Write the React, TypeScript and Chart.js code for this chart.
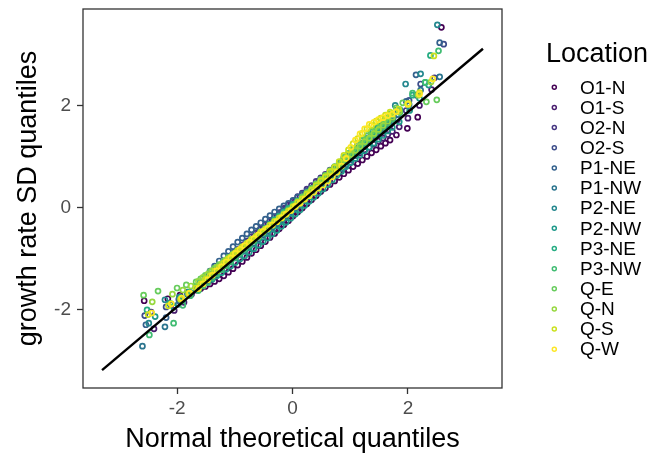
import { useEffect, useRef } from "react";
import { Chart, registerables } from "chart.js";

Chart.register(...registerables);

const FONT = '"Liberation Sans", Arial, Helvetica, sans-serif';

const LOCATIONS = ["O1-N", "O1-S", "O2-N", "O2-S", "P1-NE", "P1-NW", "P2-NE", "P2-NW", "P3-NE", "P3-NW", "Q-E", "Q-N", "Q-S", "Q-W"];
const COLORS = ["#440154", "#481C6E", "#453581", "#3D4D8A", "#34618D", "#2B748E", "#24878E", "#1F998A", "#25AC82", "#40BC72", "#67CC5C", "#97D83F", "#CBE11E", "#FDE725"];

const X_TICKS = [-2, 0, 2];
const Y_TICKS = [-2, 0, 2];
const X_TITLE = "Normal theoretical quantiles";
const Y_TITLE = "growth rate SD quantiles";
const LEGEND_TITLE = "Location";

// theoretical quantiles: central part (two sample sizes interleaved)
const XA_MID = [
  -1.67, -1.59, -1.51, -1.43, -1.35, -1.27, -1.19, -1.11, -1.03, -0.95,
  -0.87, -0.79, -0.71, -0.63, -0.55, -0.47, -0.39, -0.31, -0.23, -0.15,
  -0.07, 0.01, 0.09, 0.17, 0.25, 0.33, 0.41, 0.49, 0.57, 0.65,
  0.73, 0.81, 0.89, 0.97, 1.05, 1.13, 1.21, 1.29, 1.37, 1.45,
  1.53, 1.61, 1.69];
const XB_MID = [
  -1.63, -1.55, -1.47, -1.39, -1.31, -1.23, -1.15, -1.07, -0.99, -0.91,
  -0.83, -0.75, -0.67, -0.59, -0.51, -0.43, -0.35, -0.27, -0.19, -0.11,
  -0.03, 0.05, 0.13, 0.21, 0.29, 0.37, 0.45, 0.53, 0.61, 0.69,
  0.77, 0.85, 0.93, 1.01, 1.09, 1.17, 1.25, 1.33, 1.41, 1.49,
  1.57, 1.65, 1.73];
// theoretical quantiles of the tails, per location
const LO_X = [
  [-2.57, -2.16, -1.95, -1.80], [-2.40, -2.05, -1.88, -1.75], [-2.45, -2.10, -1.92, -1.78], [-2.56, -2.19, -1.97, -1.82],
  [-2.54, -2.19, -1.95, -1.80], [-2.60, -2.21, -1.98, -1.82], [-2.49, -2.21, -1.96, -1.80], [-2.38, -2.06, -1.90, -1.76],
  [-2.52, -2.12, -1.93, -1.79], [-2.48, -2.06, -1.90, -1.77], [-2.58, -2.33, -2.00, -1.84], [-2.43, -2.08, -1.90, -1.76],
  [-2.50, -2.15, -1.94, -1.80], [-2.44, -2.10, -1.92, -1.78]];
const HI_X = [
  [1.80, 1.99, 2.17, 2.58], [1.85, 2.00, 2.20, 2.41], [1.82, 1.97, 2.15, 2.46], [1.84, 2.02, 2.22, 2.62],
  [1.82, 1.97, 2.14, 2.55], [1.83, 2.02, 2.22, 2.55], [1.78, 1.96, 2.22, 2.51], [1.85, 2.03, 2.20, 2.36],
  [1.86, 2.08, 2.30, 2.39], [1.86, 2.08, 2.30, 2.53], [1.80, 1.91, 2.32, 2.50], [1.85, 2.01, 2.18, 2.40],
  [1.84, 2.00, 2.20, 2.45], [1.80, 2.00, 2.20, 2.43]];

// sample quantiles per location
const O1_N = [-1.83, -1.79, -1.72, -1.67,
  -1.62, -1.59, -1.55, -1.50, -1.45, -1.40, -1.34, -1.27, -1.20, -1.13,
  -1.06, -0.98, -0.90, -0.83, -0.75, -0.67, -0.59, -0.51, -0.42, -0.34,
  -0.26, -0.17, -0.09, -0.01, 0.07, 0.15, 0.23, 0.31, 0.38, 0.45,
  0.52, 0.59, 0.66, 0.73, 0.80, 0.86, 0.93, 1.00, 1.07, 1.13,
  1.20, 1.26, 1.32,
  1.42, 1.55, 1.77, 3.53];
const O1_S = [-2.38, -2.02, -1.86, -1.70,
  -1.60, -1.51, -1.42, -1.33, -1.24, -1.15, -1.06, -0.98, -0.89, -0.81,
  -0.73, -0.65, -0.57, -0.49, -0.41, -0.33, -0.25, -0.18, -0.10, -0.02,
  0.05, 0.13, 0.20, 0.28, 0.35, 0.42, 0.50, 0.56, 0.64, 0.71,
  0.78, 0.85, 0.90, 0.96, 1.02, 1.07, 1.13, 1.18, 1.24, 1.30,
  1.36, 1.43, 1.49,
  1.58, 1.75, 2.00, 2.31];
const O2_N = [-2.05, -1.90, -1.80, -1.67,
  -1.57, -1.48, -1.39, -1.31, -1.23, -1.15, -1.06, -0.98, -0.90, -0.82,
  -0.74, -0.66, -0.57, -0.50, -0.42, -0.34, -0.26, -0.18, -0.10, -0.02,
  0.05, 0.13, 0.21, 0.28, 0.36, 0.43, 0.51, 0.58, 0.65, 0.73,
  0.79, 0.87, 0.94, 1.00, 1.07, 1.14, 1.21, 1.28, 1.34, 1.41,
  1.47, 1.54, 1.61,
  1.72, 1.90, 2.20, 2.54];
const O2_S = [-2.12, -1.95, -1.80, -1.66,
  -1.56, -1.50, -1.43, -1.36, -1.28, -1.22, -1.14, -1.07, -0.99, -0.92,
  -0.85, -0.77, -0.70, -0.62, -0.54, -0.47, -0.39, -0.32, -0.24, -0.16,
  -0.09, 0.00, 0.07, 0.16, 0.24, 0.32, 0.40, 0.48, 0.57, 0.65,
  0.73, 0.82, 0.90, 0.99, 1.08, 1.16, 1.25, 1.33, 1.42, 1.51,
  1.59, 1.67, 1.75,
  1.90, 2.10, 2.42, 3.20];
const P1_NE = [-2.30, -2.16, -1.85, -1.70,
  -1.56, -1.46, -1.35, -1.25, -1.15, -1.05, -0.95, -0.86, -0.77, -0.68,
  -0.60, -0.52, -0.44, -0.37, -0.30, -0.23, -0.16, -0.09, -0.03, 0.03,
  0.08, 0.14, 0.20, 0.26, 0.32, 0.38, 0.45, 0.53, 0.60, 0.68,
  0.75, 0.83, 0.92, 1.00, 1.09, 1.17, 1.26, 1.35, 1.43, 1.52,
  1.60, 1.68, 1.77,
  1.90, 2.08, 2.60, 3.23];
const P1_NW = [-2.72, -2.34, -1.90, -1.70,
  -1.60, -1.52, -1.45, -1.36, -1.28, -1.20, -1.12, -1.04, -0.96, -0.87,
  -0.80, -0.71, -0.64, -0.55, -0.47, -0.39, -0.31, -0.24, -0.15, -0.07,
  0.00, 0.07, 0.14, 0.21, 0.28, 0.34, 0.41, 0.47, 0.54, 0.62,
  0.68, 0.76, 0.84, 0.93, 1.02, 1.10, 1.19, 1.27, 1.36, 1.45,
  1.53, 1.62, 1.70,
  1.82, 2.02, 2.30, 2.56];
const P2_NE = [-2.27, -1.81, -1.76, -1.69,
  -1.60, -1.52, -1.43, -1.35, -1.26, -1.18, -1.10, -1.01, -0.94, -0.87,
  -0.80, -0.73, -0.66, -0.60, -0.53, -0.47, -0.40, -0.32, -0.26, -0.18,
  -0.11, -0.03, 0.06, 0.14, 0.23, 0.32, 0.42, 0.52, 0.61, 0.70,
  0.79, 0.88, 0.97, 1.05, 1.14, 1.22, 1.31, 1.40, 1.48, 1.57,
  1.65, 1.74, 1.83,
  2.00, 2.42, 2.62, 3.58];
const P2_NW = [-2.14, -1.95, -1.82, -1.68,
  -1.59, -1.53, -1.47, -1.41, -1.34, -1.28, -1.21, -1.15, -1.08, -1.01,
  -0.95, -0.88, -0.81, -0.74, -0.67, -0.60, -0.52, -0.45, -0.37, -0.29,
  -0.21, -0.13, -0.05, 0.04, 0.12, 0.20, 0.28, 0.36, 0.45, 0.54,
  0.63, 0.71, 0.80, 0.88, 0.96, 1.03, 1.11, 1.18, 1.26, 1.34,
  1.41, 1.50, 1.57,
  1.68, 1.90, 2.14, 2.40];
const P3_NE = [-2.01, -1.88, -1.77, -1.66,
  -1.55, -1.47, -1.39, -1.33, -1.25, -1.18, -1.11, -1.03, -0.96, -0.88,
  -0.81, -0.72, -0.64, -0.57, -0.48, -0.41, -0.33, -0.24, -0.17, -0.09,
  -0.02, 0.06, 0.13, 0.20, 0.27, 0.34, 0.41, 0.48, 0.55, 0.62,
  0.69, 0.78, 0.87, 0.96, 1.06, 1.15, 1.25, 1.35, 1.44, 1.54,
  1.62, 1.71, 1.80,
  1.92, 2.20, 2.45, 2.98];
const P3_NW = [-2.50, -2.27, -1.92, -1.73,
  -1.63, -1.54, -1.47, -1.38, -1.30, -1.22, -1.14, -1.06, -0.98, -0.90,
  -0.82, -0.74, -0.66, -0.58, -0.50, -0.42, -0.34, -0.26, -0.18, -0.10,
  -0.03, 0.06, 0.13, 0.22, 0.30, 0.38, 0.46, 0.54, 0.62, 0.71,
  0.78, 0.86, 0.94, 1.02, 1.10, 1.18, 1.26, 1.33, 1.42, 1.50,
  1.57, 1.65, 1.73,
  1.86, 2.24, 2.45, 3.07];
const Q_E = [-1.72, -1.64, -1.58, -1.52,
  -1.46, -1.40, -1.33, -1.26, -1.19, -1.12, -1.05, -0.98, -0.91, -0.84,
  -0.77, -0.70, -0.62, -0.56, -0.48, -0.42, -0.34, -0.27, -0.20, -0.12,
  -0.05, 0.03, 0.12, 0.20, 0.29, 0.37, 0.46, 0.55, 0.63, 0.72,
  0.80, 0.89, 0.98, 1.06, 1.15, 1.23, 1.32, 1.41, 1.49, 1.58,
  1.66, 1.74, 1.83,
  1.95, 2.05, 2.07, 2.11];
const Q_N = [-1.85, -1.70, -1.62, -1.54,
  -1.45, -1.37, -1.31, -1.24, -1.17, -1.11, -1.03, -0.97, -0.89, -0.82,
  -0.76, -0.69, -0.63, -0.56, -0.48, -0.42, -0.35, -0.28, -0.21, -0.13,
  -0.06, 0.03, 0.10, 0.19, 0.28, 0.36, 0.45, 0.53, 0.62, 0.71,
  0.79, 0.87, 0.95, 1.04, 1.12, 1.20, 1.29, 1.36, 1.45, 1.53,
  1.61, 1.69, 1.77,
  1.88, 2.04, 2.20, 2.46];
const Q_S = [-2.10, -1.93, -1.80, -1.69,
  -1.58, -1.50, -1.41, -1.34, -1.25, -1.18, -1.09, -1.01, -0.93, -0.85,
  -0.78, -0.71, -0.63, -0.57, -0.49, -0.43, -0.35, -0.28, -0.21, -0.14,
  -0.07, 0.01, 0.10, 0.17, 0.26, 0.34, 0.43, 0.52, 0.60, 0.70,
  0.79, 0.90, 1.02, 1.13, 1.25, 1.35, 1.45, 1.54, 1.61, 1.69,
  1.75, 1.81, 1.87,
  1.93, 2.02, 2.25, 2.97];
const Q_W = [-2.07, -1.89, -1.78, -1.68,
  -1.59, -1.50, -1.42, -1.33, -1.24, -1.16, -1.07, -0.99, -0.90, -0.82,
  -0.75, -0.68, -0.61, -0.54, -0.47, -0.41, -0.34, -0.28, -0.20, -0.13,
  -0.06, 0.02, 0.08, 0.16, 0.23, 0.30, 0.38, 0.44, 0.52, 0.60,
  0.69, 0.81, 0.96, 1.18, 1.32, 1.44, 1.54, 1.63, 1.67, 1.72,
  1.76, 1.80, 1.83,
  1.88, 2.03, 2.22, 2.52];

// reference line end points
const LINE_X = [-3.3, 3.3];
const LINE_Y = [-3.19, 3.11];

const X_MIN = -3.63, X_MAX = 3.63, Y_MIN = -3.54, Y_MAX = 3.89;

export default function App() {
  const ref = useRef<HTMLCanvasElement | null>(null);

  useEffect(() => {
    if (!ref.current) return;
    const series = [O1_N, O1_S, O2_N, O2_S, P1_NE, P1_NW, P2_NE, P2_NW, P3_NE, P3_NW, Q_E, Q_N, Q_S, Q_W];
    const datasets: any[] = LOCATIONS.map((name, i) => {
      const xs = [...LO_X[i], ...(i % 2 === 0 ? XA_MID : XB_MID), ...HI_X[i]];
      return {
        label: name,
        data: series[i].map((y, j) => ({ x: xs[j], y })),
        borderColor: COLORS[i],
        backgroundColor: "rgba(0,0,0,0)",
        pointRadius: 2.5,
        pointBorderWidth: 1.7,
        pointHoverRadius: 2.5,
        showLine: false,
        order: LOCATIONS.length - i + 1,
      };
    });
    datasets.push({
      label: "reference",
      data: LINE_X.map((x, i) => ({ x, y: LINE_Y[i] })),
      borderColor: "#000000",
      borderWidth: 2.4,
      showLine: true,
      pointRadius: 0,
      pointHoverRadius: 0,
      order: 0,
    });

    const frame = {
      id: "panelFrame",
      afterDatasetsDraw(chart: any) {
        const { ctx, chartArea } = chart;
        ctx.save();
        ctx.strokeStyle = "#333333";
        ctx.lineWidth = 1.3;
        ctx.strokeRect(chartArea.left, chartArea.top, chartArea.right - chartArea.left, chartArea.bottom - chartArea.top);
        ctx.restore();
      },
    };

    const legend = {
      id: "ggLegend",
      afterDraw(chart: any) {
        const ctx = chart.ctx;
        const left = chart.chartArea.right + 44;
        ctx.save();
        ctx.fillStyle = "#000000";
        ctx.textAlign = "left";
        ctx.textBaseline = "alphabetic";
        ctx.font = `27px ${FONT}`;
        ctx.fillText(LEGEND_TITLE, left, 61.5);
        ctx.font = `19px ${FONT}`;
        ctx.textBaseline = "middle";
        LOCATIONS.forEach((name, i) => {
          const y = 87.3 + i * 20.15;
          ctx.beginPath();
          ctx.arc(left + 8.3, y, 2, 0, Math.PI * 2);
          ctx.strokeStyle = COLORS[i];
          ctx.lineWidth = 1.5;
          ctx.stroke();
          ctx.fillStyle = "#000000";
          ctx.fillText(name, left + 34, y + 1);
        });
        ctx.restore();
      },
    };

    const chart = new Chart(ref.current, {
      type: "scatter",
      data: { datasets },
      options: {
        animation: false,
        responsive: false,
        events: [],
        layout: { padding: { top: 9, right: 160, bottom: 0, left: 0 } },
        plugins: { legend: { display: false }, tooltip: { enabled: false } },
        scales: {
          x: {
            type: "linear",
            min: X_MIN,
            max: X_MAX,
            afterBuildTicks: (s: any) => { s.ticks = X_TICKS.map((v) => ({ value: v })); },
            afterFit: (s: any) => { s.height = 68; s.paddingLeft = 0; s.paddingRight = 0; },
            grid: { display: true, drawOnChartArea: false, drawTicks: true, tickLength: 6, tickColor: "#333333", tickWidth: 1.3 },
            border: { display: false },
            ticks: { font: { size: 19, family: FONT }, color: "#4D4D4D", padding: 3, maxRotation: 0 },
            title: { display: true, text: X_TITLE, color: "#000000", font: { size: 27, family: FONT, lineHeight: 1.2 }, padding: { top: 0, bottom: 0 } },
          },
          y: {
            type: "linear",
            min: Y_MIN,
            max: Y_MAX,
            afterBuildTicks: (s: any) => { s.ticks = Y_TICKS.map((v) => ({ value: v })); },
            afterFit: (s: any) => { s.width = 83; s.paddingTop = 0; s.paddingBottom = 0; },
            grid: { display: true, drawOnChartArea: false, drawTicks: true, tickLength: 6, tickColor: "#333333", tickWidth: 1.3 },
            border: { display: false },
            ticks: { font: { size: 19, family: FONT }, color: "#4D4D4D", padding: 6 },
            title: { display: true, text: Y_TITLE, color: "#000000", font: { size: 27, family: FONT, lineHeight: 1.2 }, padding: { top: 12, bottom: 0 } },
          },
        },
      },
      plugins: [frame, legend],
    });
    return () => chart.destroy();
  }, []);

  return (
    <div style={{ position: "fixed", left: 0, top: 0, width: 662, height: 456, background: "#ffffff" }}>
      <canvas ref={ref} width={662} height={456} style={{ width: 662, height: 456, display: "block" }} />
    </div>
  );
}
